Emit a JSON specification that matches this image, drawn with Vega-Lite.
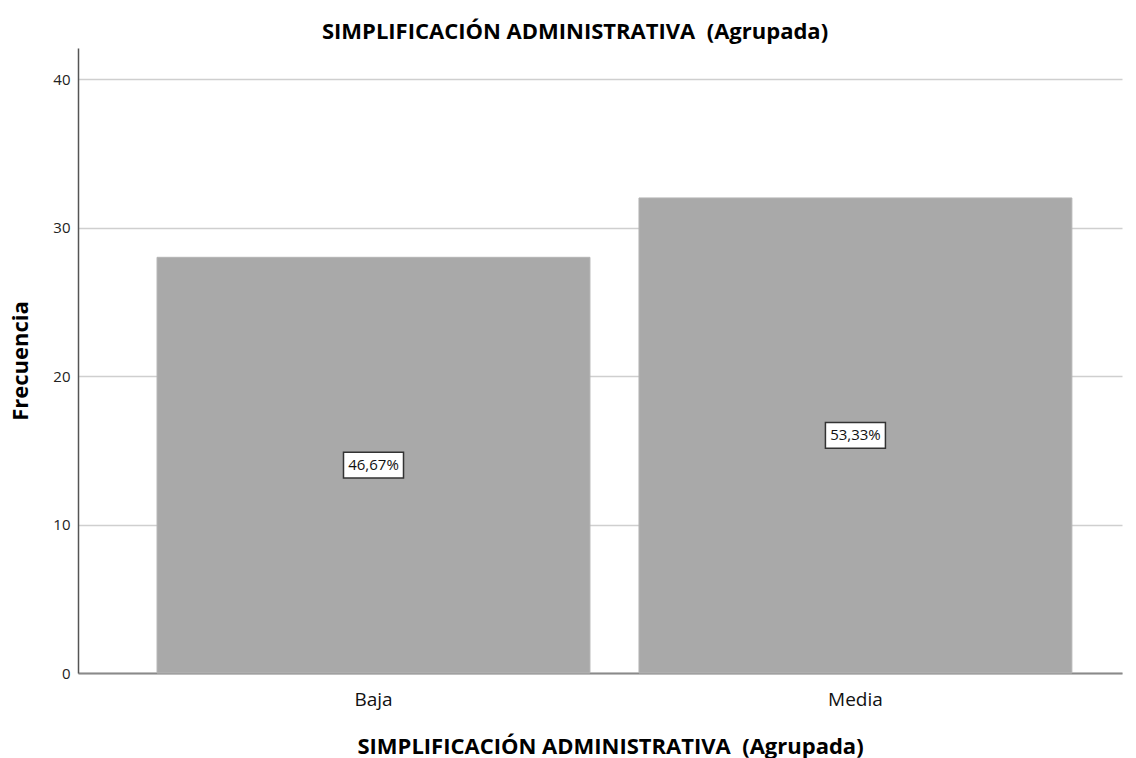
{
  "$schema": "https://vega.github.io/schema/vega-lite/v6.json",
  "width": 1044,
  "height": 625,
  "autosize": {"type": "none"},
  "padding": {"left": 78, "top": 48, "right": 14, "bottom": 85},
  "background": "white",
  "title": {
    "text": "SIMPLIFICACIÓN ADMINISTRATIVA \u00a0(Agrupada)",
    "font": "Open Sans",
    "fontSize": 22,
    "fontWeight": "bold",
    "color": "#000000",
    "anchor": "middle",
    "frame": "group",
    "offset": 4,
    "dx": -25
  },
  "config": {
    "view": {"stroke": null},
    "font": "Open Sans"
  },
  "data": {
    "values": [
      {"Categoria": "Baja", "Frecuencia": 28, "Porcentaje": "46,67%"},
      {"Categoria": "Media", "Frecuencia": 32, "Porcentaje": "53,33%"}
    ]
  },
  "encoding": {
    "x": {
      "field": "Categoria",
      "type": "nominal",
      "sort": null,
      "scale": {"paddingInner": 0.1017, "paddingOuter": 0.134, "align": 0.612},
      "axis": {
        "title": "SIMPLIFICACIÓN ADMINISTRATIVA \u00a0(Agrupada)",
        "titleFont": "Open Sans",
        "titleFontSize": 22,
        "titleFontWeight": "bold",
        "titleColor": "#000000",
        "titlePadding": 27,
        "titleX": 532,
        "labelAngle": 0,
        "labelFont": "Open Sans",
        "labelFontSize": 19,
        "labelColor": "#111111",
        "labelPadding": 17,
        "ticks": false,
        "domainColor": "#8a8a8a",
        "domainWidth": 2
      }
    }
  },
  "layer": [
    {
      "mark": {"type": "bar", "color": "#a9a9a9", "stroke": "#b5b5b5", "strokeWidth": 1},
      "encoding": {
        "y": {
          "field": "Frecuencia",
          "type": "quantitative",
          "scale": {"domain": [0, 42.1], "nice": false},
          "axis": {
            "values": [0, 10, 20, 30, 40],
            "grid": true,
            "gridColor": "#cfcfcf",
            "gridWidth": 1.5,
            "ticks": false,
            "domainColor": "#555555",
            "domainWidth": 1.5,
            "labelFont": "Open Sans",
            "labelFontSize": 15,
            "labelColor": "#222222",
            "labelPadding": 8,
            "title": "Frecuencia",
            "titleFont": "Open Sans",
            "titleFontSize": 22,
            "titleFontWeight": "bold",
            "titleColor": "#000000",
            "titlePadding": 20
          }
        }
      }
    },
    {
      "transform": [{"calculate": "datum.Frecuencia / 2", "as": "Mitad"}],
      "mark": {
        "type": "point",
        "shape": "M-1,-0.43H1V0.43H-1Z",
        "size": 3600,
        "filled": true,
        "fill": "white",
        "stroke": "#333333",
        "strokeWidth": 1.5,
        "opacity": 1
      },
      "encoding": {
        "y": {"field": "Mitad", "type": "quantitative"}
      }
    },
    {
      "transform": [{"calculate": "datum.Frecuencia / 2", "as": "Mitad"}],
      "mark": {"type": "text", "font": "Open Sans", "fontSize": 15, "color": "#111111", "baseline": "middle", "align": "center"},
      "encoding": {
        "y": {"field": "Mitad", "type": "quantitative"},
        "text": {"field": "Porcentaje", "type": "nominal"}
      }
    }
  ]
}
